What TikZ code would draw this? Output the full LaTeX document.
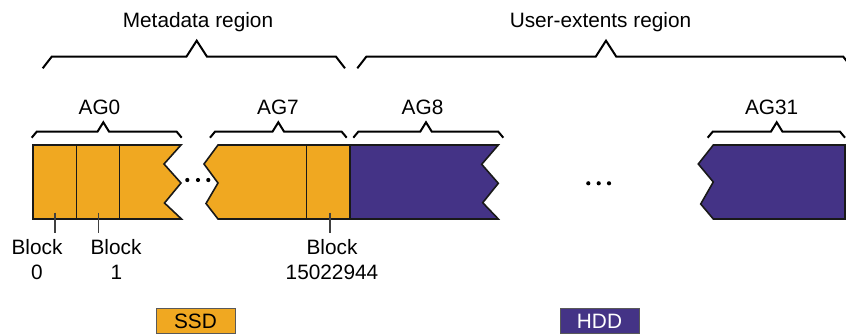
\documentclass[tikz,border=0pt]{standalone}
\usepackage{fontspec}
\setmainfont{Liberation Sans}
\definecolor{ssdcol}{RGB}{240,168,33}
\definecolor{hddcol}{RGB}{68,51,134}
\tikzset{
  lbl/.style={font=\fontsize{20.8}{25}\selectfont, inner sep=0pt, anchor=base},
  bracket/.style={draw=black, line width=2pt, line join=miter},
  piece/.style={draw=black!90, line width=1.6pt, line join=miter},
  divider/.style={draw=black!90, line width=1.1pt},
  pointer/.style={draw=black!75, line width=1.2pt},
  dotmark/.style={circle, fill=black, inner sep=0pt, minimum size=4.2pt},
  legendbox/.style={draw=black!65, line width=1pt, minimum width=79pt, minimum height=25.2pt, inner sep=0pt, font=\fontsize{20.8}{25}\selectfont}
}
\newcommand\agbrace[3]{%
  \draw[bracket] (#1,137.7) -- ({#1+5},131.7) -- ({#2-5.8},131.7) -- (#2,122.3)
    -- ({#2+5.8},131.7) -- ({#3-5},131.7) -- (#3,137.7);}
\newcommand\regbrace[3]{%
  \draw[bracket] (#1,68.3) -- ({#1+9},56.7) -- ({#2-10.3},56.7) -- (#2,40.7)
    -- ({#2+10.3},56.7) -- ({#3-9},56.7) -- (#3,68.3);}
\begin{document}
\begin{tikzpicture}[x=1pt,y=-1pt]
\useasboundingbox (0,0) rectangle (846,334);

% region braces and titles
\regbrace{42.7}{196.7}{345}
\regbrace{357.3}{606}{852.3}
\node[lbl] (meta) at (198,27.3) {Metadata region};
\node[lbl] (user) at (600.5,27.3) {User-extents region};

% AG braces and titles
\agbrace{31.7}{103.3}{181.7}
\agbrace{210}{278.3}{346.7}
\agbrace{353.3}{426}{503.3}
\agbrace{707.7}{776.7}{845}
\node[lbl] (ag0) at (99.5,115) {AG0};
\node[lbl] (ag7) at (278,115) {AG7};
\node[lbl] (ag8) at (422.5,115) {AG8};
\node[lbl] (ag31) at (771.7,115) {AG31};

% pieces
\filldraw[piece, fill=ssdcol] (33,145) -- (181,145) -- (164,164) -- (181,183)
  -- (164.5,203) -- (181.5,219) -- (33,219) -- cycle;
\draw[divider] (76.7,145) -- (76.7,219);
\draw[divider] (119.3,145) -- (119.3,219);

\filldraw[piece, fill=ssdcol] (218,145) -- (350,145) -- (350,219) -- (218,219)
  -- (206,203.5) -- (218,183) -- (204,164) -- cycle;
\draw[divider] (306.7,145) -- (306.7,219);

\filldraw[piece, fill=hddcol] (350,145) -- (498.3,145) -- (481.7,164.3) -- (498.3,183.3)
  -- (482.7,202.7) -- (498.3,219) -- (350,219) -- cycle;

\filldraw[piece, fill=hddcol] (713.3,145) -- (845,145) -- (845,219) -- (713.3,219)
  -- (700.7,204) -- (713.3,182) -- (698.3,164) -- cycle;

% ellipses
\node[dotmark] (d1) at (187.3,180) {};
\node[dotmark] (d2) at (198,180) {};
\node[dotmark] (d3) at (208.3,180) {};
\node[dotmark] (e1) at (588.3,183.3) {};
\node[dotmark] (e2) at (598.7,183.3) {};
\node[dotmark] (e3) at (609,183.3) {};

% block pointers and labels
\coordinate (p0t) at (55,212.7);   \coordinate (p0b) at (55,233);
\coordinate (p1t) at (98.7,212.7); \coordinate (p1b) at (98.7,233);
\coordinate (p2t) at (330,212.7);  \coordinate (p2b) at (330,233);
\draw[pointer] (p0t) -- (p0b);
\draw[pointer] (p1t) -- (p1b);
\draw[pointer] (p2t) -- (p2b);
\node[lbl] (b0a) at (37,254) {Block};
\node[lbl] (b0b) at (37,279.3) {0};
\node[lbl] (b1a) at (116,254) {Block};
\node[lbl] (b1b) at (116.5,279.3) {1};
\node[lbl] (b2a) at (332,254) {Block};
\node[lbl] (b2b) at (332,279.3) {15022944};

% legend
\node[legendbox, fill=ssdcol, text=black] (ssd) at (195.5,320.9) {SSD};
\node[legendbox, fill=hddcol, text=white] (hdd) at (599.5,320.9) {HDD};
\end{tikzpicture}
\end{document}
